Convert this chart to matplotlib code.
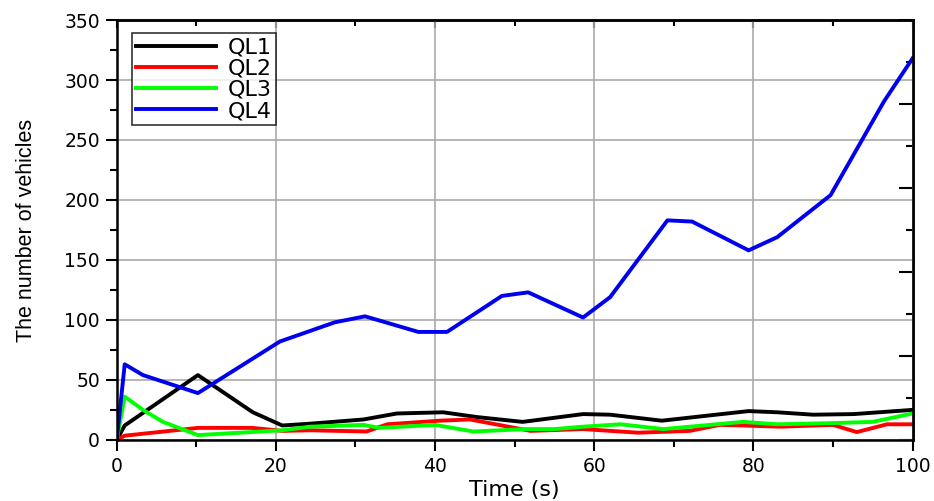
import matplotlib.pyplot as plt
from matplotlib.ticker import MultipleLocator

# values
t_ql1 = [0, 1, 10.2, 17.1, 20.8, 24.3, 31, 35.2, 41, 45.3, 51, 58.6, 62, 68.5, 79.4, 83, 87.5, 92.6, 100]
ql1 = [0, 12, 54, 23, 12, 13.5, 17, 22, 23, 19, 15, 21.5, 21, 16, 24, 23, 21, 21.5, 25]

t_ql2 = [0, 1, 10.2, 17, 20.8, 24.3, 31.4, 34, 40.6, 44.4, 52, 58.6, 65.5, 72, 75.8, 78.7, 83.4, 90, 93, 96.8, 100]
ql2 = [0, 3.5, 10, 10, 7.5, 8, 7, 13, 16, 17, 7.5, 9, 6, 7.5, 12.5, 12, 11, 12.5, 6.5, 13, 13]

t_ql3 = [0, 1, 3.3, 5.8, 10.2, 20.8, 24.3, 31, 33, 40, 44.8, 51.5, 55, 58.6, 63.3, 68.7, 78.7, 83, 90, 95, 100]
ql3 = [0, 36, 25, 15, 4, 8, 11, 12.5, 10, 12.5, 7, 9, 9, 11, 13, 9, 15, 13, 14, 15, 22]

t_ql4 = [0, 1, 3.3, 10.2, 20.5, 27.4, 31.2, 37.9, 41.5, 48.4, 51.7, 58.6, 62, 69.2, 72.3, 79.4, 83, 89.7, 96.4, 100]
ql4 = [0, 63, 54, 39, 82, 98, 103, 90, 90, 120, 123, 102, 119, 183, 182, 158, 169, 204, 282, 318]

plt.rcParams['font.family'] = ['DejaVu Sans']

fig = plt.figure(figsize=(9.34, 5.01), dpi=100)
ax = fig.add_axes([0.125, 0.122, 0.852, 0.838])

lw = 2.8
ax.plot(t_ql1, ql1, color='black', lw=lw, label='QL1')
ax.plot(t_ql2, ql2, color='#ff0000', lw=lw, label='QL2')
ax.plot(t_ql3, ql3, color='#00ff00', lw=lw, label='QL3')
ax.plot(t_ql4, ql4, color='#0000ee', lw=lw, label='QL4')

ax.set_xlim(0, 100)
ax.set_ylim(0, 350)
ax.xaxis.set_major_locator(MultipleLocator(20))
ax.xaxis.set_minor_locator(MultipleLocator(10))
ax.yaxis.set_major_locator(MultipleLocator(50))
ax.yaxis.set_minor_locator(MultipleLocator(25))
ax.grid(True, which='major', color='#aaaaaa', lw=1.2)
ax.tick_params(which='major', direction='out', length=8, width=1.5, labelsize=13.5, pad=4)
ax.tick_params(which='minor', direction='out', length=5, width=1.5)
for s in ax.spines.values():
    s.set_linewidth(1.8)

# top and right axes with inward ticks
top = ax.secondary_xaxis('top')
top.xaxis.set_major_locator(MultipleLocator(20))
top.xaxis.set_minor_locator(MultipleLocator(10))
top.tick_params(which='major', direction='in', length=6, width=1.5, labeltop=False)
top.tick_params(which='minor', direction='in', length=4, width=1.5)
top.spines['top'].set_linewidth(1.8)

right = ax.secondary_yaxis('right')
right.yaxis.set_major_locator(MultipleLocator(70))
right.yaxis.set_minor_locator(MultipleLocator(35))
right.tick_params(which='major', direction='in', length=10, width=1.5, labelright=False)
right.tick_params(which='minor', direction='in', length=5, width=1.5)
right.spines['right'].set_linewidth(1.8)

ax.set_xlabel('Time (s)', fontsize=16, labelpad=3)
ax.set_ylabel('The number of vehicles', fontsize=15.5, family=['Liberation Sans'], labelpad=20)

leg = ax.legend(loc='upper left', fontsize=16, frameon=True, fancybox=False,
                handlelength=3.6, borderpad=0.2, labelspacing=0.05,
                handletextpad=0.5, bbox_to_anchor=(0.005, 0.995))
leg.get_frame().set_edgecolor('black')
leg.get_frame().set_linewidth(1.2)

fig.savefig('out.png', dpi=100)
